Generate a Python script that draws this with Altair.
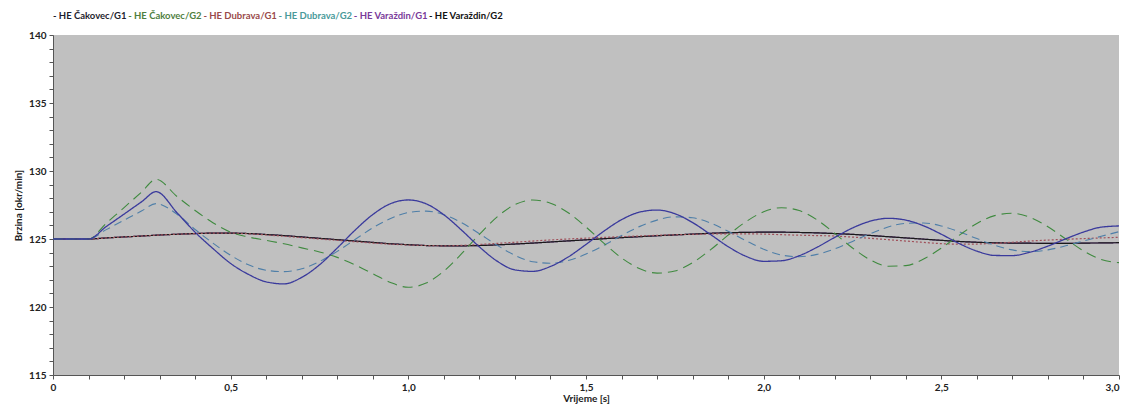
import altair as alt
import pandas as pd

# time axis (s)
times = [0, 0.05, 0.1, 0.15, 0.2, 0.25, 0.29] + [round(0.35 + 0.05 * i, 2) for i in range(54)]

cak_g1 = [125, 125, 125, 125.92, 126.83, 127.75, 128.48, 126.9, 125.5, 124.3, 123.2, 122.4, 121.85, 121.7,
          122.18, 123.1, 124.34, 125.65, 126.8, 127.6, 127.87, 127.59, 126.78, 125.65, 124.42, 123.37, 122.73,
          122.62, 122.98, 123.68, 124.6, 125.57, 126.42, 126.97, 127.13, 126.86, 126.21, 125.34, 124.44, 123.73,
          123.36, 123.4, 123.77, 124.39, 125.12, 125.81, 126.31, 126.52, 126.39, 125.97, 125.35, 124.67, 124.11,
          123.79, 123.78, 124.03, 124.48, 125.01, 125.51, 125.87, 125.96]

cak_g2 = [125, 125, 125, 126.16, 127.31, 128.47, 129.39, 128.1, 127.1, 126.2, 125.5, 125.15, 124.9, 124.65,
          124.35, 124.05, 123.65, 123.1, 122.45, 121.8, 121.45, 121.76, 122.64, 123.92, 125.34, 126.63, 127.53,
          127.87, 127.63, 126.93, 125.88, 124.7, 123.61, 122.83, 122.49, 122.65, 123.26, 124.2, 125.28, 126.27,
          127.0, 127.3, 127.09, 126.41, 125.41, 124.34, 123.47, 123.0, 123.04, 123.53, 124.33, 125.27, 126.14,
          126.72, 126.89, 126.59, 125.9, 125.01, 124.13, 123.49, 123.26]

var_g2 = [125, 125, 125, 125.08, 125.15, 125.22, 125.28, 125.35, 125.4, 125.43, 125.43, 125.4, 125.33, 125.25,
          125.15, 125.05, 124.95, 124.85, 124.75, 124.65, 124.58, 124.52, 124.5, 124.5, 124.52, 124.57, 124.63,
          124.7, 124.78, 124.86, 124.94, 125.02, 125.1, 125.17, 125.24, 125.3, 125.36, 125.42, 125.46, 125.49,
          125.5, 125.5, 125.48, 125.45, 125.4, 125.34, 125.26, 125.17, 125.08, 124.99, 124.9, 124.82, 124.76,
          124.72, 124.7, 124.69, 124.68, 124.68, 124.7, 124.71, 124.73]

var_g1 = list(var_g2)

dub_g1 = [125, 125, 125, 125.08, 125.15, 125.22, 125.28, 125.35, 125.4, 125.43, 125.43, 125.38, 125.3, 125.2,
          125.1, 125.0, 124.9, 124.8, 124.7, 124.62, 124.56, 124.52, 124.5, 124.53, 124.6, 124.68, 124.76,
          124.85, 124.93, 125.0, 125.06, 125.12, 125.17, 125.22, 125.27, 125.31, 125.34, 125.37, 125.38, 125.38,
          125.36, 125.32, 125.28, 125.25, 125.22, 125.14, 125.05, 124.95, 124.85, 124.75, 124.66, 124.62, 124.63,
          124.68, 124.76, 124.85, 124.92, 124.98, 125.03, 125.08, 125.12]

dub_g2 = [125, 125, 125, 125.69, 126.38, 127.07, 127.6, 126.8, 125.7, 124.7, 123.8, 123.1, 122.7, 122.6,
          122.81, 123.34, 124.09, 124.96, 125.82, 126.51, 126.95, 127.05, 126.79, 126.2, 125.39, 124.54, 123.8,
          123.33, 123.22, 123.42, 123.89, 124.53, 125.25, 125.91, 126.39, 126.63, 126.56, 126.18, 125.57, 124.88,
          124.25, 123.82, 123.7, 123.87, 124.27, 124.82, 125.39, 125.88, 126.15, 126.18, 125.96, 125.54, 125.03,
          124.54, 124.2, 124.07, 124.2, 124.5, 124.85, 125.2, 125.54]

names = ["HE Čakovec/G1", "HE Čakovec/G2", "HE Dubrava/G1", "HE Dubrava/G2", "HE Varaždin/G1", "HE Varaždin/G2"]
text_colors = ["#1e1e2e", "#4f7f3f", "#9a4a4a", "#4a9a9a", "#7a3a9a", "#111111"]

series_values = {
    "HE Čakovec/G1": cak_g1,
    "HE Čakovec/G2": cak_g2,
    "HE Dubrava/G1": dub_g1,
    "HE Dubrava/G2": dub_g2,
    "HE Varaždin/G1": var_g1,
    "HE Varaždin/G2": var_g2,
}

# drawing order and styles (bottom to top)
draw_order = ["HE Varaždin/G1", "HE Varaždin/G2", "HE Dubrava/G1", "HE Dubrava/G2", "HE Čakovec/G2", "HE Čakovec/G1"]
styles = {
    "HE Varaždin/G1": dict(color="#6a3a8a", dash=[1, 0], w=1.2),
    "HE Varaždin/G2": dict(color="#1a1a1a", dash=[1, 0], w=1.2),
    "HE Dubrava/G1": dict(color="#a0505a", dash=[2, 2], w=1.2),
    "HE Dubrava/G2": dict(color="#4f7fa8", dash=[8, 5], w=1.1),
    "HE Čakovec/G2": dict(color="#3f8a3f", dash=[10, 6], w=1.1),
    "HE Čakovec/G1": dict(color="#3a3a9c", dash=[1, 0], w=1.3),
}

x_ticks = [round(0.1 * i, 1) for i in range(31)]
y_ticks = list(range(115, 141))

font = "Lato"

x_enc = alt.X(
    "t:Q",
    scale=alt.Scale(domain=[0, 3], nice=False),
    axis=alt.Axis(
        values=x_ticks,
        labelExpr="round(datum.value*10) % 5 == 0 ? (datum.value == 0 ? '0' : replace(format(datum.value, '.1f'), '.', ',')) : ''",
        title="Vrijeme [s]",
        grid=False,
        labelOverlap=False,
        labelFlush=False,
        labelAlign={"condition": {"test": "datum.value > 2.95", "value": "right"}, "value": "center"},
        titlePadding=1,
    ),
)
y_enc = alt.Y(
    "v:Q",
    scale=alt.Scale(domain=[115, 140], nice=False, zero=False),
    axis=alt.Axis(
        values=y_ticks,
        labelExpr="datum.value % 5 == 0 ? datum.label : ''",
        title="Brzina [okr/min]",
        grid=False,
        labelOverlap=False,
        titlePadding=5,
    ),
)

layers = []
for name in draw_order:
    df = pd.DataFrame({"t": times, "v": series_values[name]})
    st = styles[name]
    layers.append(
        alt.Chart(df)
        .mark_line(strokeWidth=st["w"], strokeDash=st["dash"], interpolate="monotone", color=st["color"])
        .encode(x=x_enc, y=y_enc)
    )

lines = alt.layer(*layers)

legend_df = pd.DataFrame({"name": names, "label": ["- " + n for n in names]})
legend = (
    alt.Chart(legend_df)
    .mark_text(align="left", baseline="middle", font=font, fontWeight="bold", fontSize=9.5)
    .encode(
        x=alt.X("name:N", sort=names, scale=alt.Scale(type="point", domain=names, range=[0, 376], padding=0), axis=None),
        y=alt.value(-19),
        text="label:N",
        color=alt.Color("name:N", scale=alt.Scale(domain=names, range=text_colors), legend=None),
    )
)

chart = (
    alt.layer(lines, legend)
    .resolve_scale(x="independent")
    .properties(
        width=1066,
        height=340,
        autosize=alt.AutoSizeParams(type="none"),
        padding={"left": 45, "top": 27, "right": 2, "bottom": 33},
        background="white",
    )
    .configure_view(fill="#c0c0c0", strokeWidth=0)
    .configure_axis(
        labelFont=font,
        labelFontWeight="bold",
        labelFontSize=10,
        labelColor="#222222",
        titleFont=font,
        titleFontWeight="bold",
        titleFontSize=10,
        titleColor="#222222",
        domainColor="#555555",
        tickColor="#555555",
        tickSize=4,
        labelPadding=3,
    )
)

chart.save("out.html", embed_options={"renderer": "svg", "actions": False})
